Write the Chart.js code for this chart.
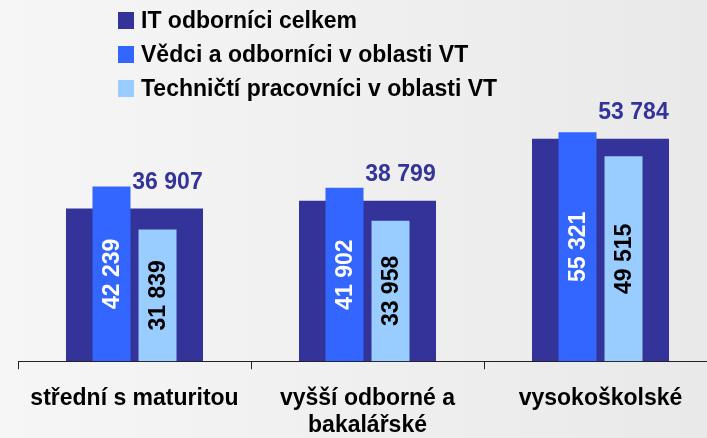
<!DOCTYPE html>
<html lang="cs">
  <head>
    <meta charset="UTF-8">
    <script src="https://cdn.jsdelivr.net/npm/chart.js"></script>
    <style>
      html, body {
      margin: 0;
      padding: 0;
      width: 707px;
      height: 438px;
      overflow: hidden;
      background: linear-gradient(to right, #f6f6f6, #e9e9e9);
      font-family: "Liberation Sans", Arial, sans-serif;
      }
      .chart-container {
      position: absolute;
      left: 0;
      top: 0;
      width: 730px;
      height: 460px;
      }
      #legend {
      position: absolute;
      left: 118px;
      top: 3px;
      z-index: 2;
      }
      #legend div {
      display: flex;
      align-items: center;
      height: 34px;
      font-weight: bold;
      font-size: 23px;
      color: #000;
      white-space: nowrap;
      }
      #legend .box {
      width: 16px;
      height: 17px;
      margin-right: 7px;
      }
    </style>
  </head>
  <body>
    <div id="legend"></div>
    <div class="chart-container">
      <canvas id="eduChart"></canvas>
    </div>
    <script>
      // kategorie vzdělání (víceřádkové popisky)
      const categories = [['střední s maturitou'], ['vyšší odborné a', 'bakalářské'], ['vysokoškolské']];
      const seriesNames = ['IT odborníci celkem', 'Vědci a odborníci v oblasti VT', 'Techničtí pracovníci v oblasti VT'];
      const itTotal = [36907, 38799, 53784];
      const scientists = [42239, 41902, 55321];
      const technicians = [31839, 33958, 49515];

      const colors = ['#333399', '#3366FF', '#99CCFF'];
      const FONT = '"Liberation Sans", Arial, sans-serif';

      // legenda jako HTML
      const legendEl = document.getElementById('legend');
      seriesNames.forEach((name, i) => {
        const row = document.createElement('div');
        const box = document.createElement('span');
        box.className = 'box';
        box.style.background = colors[i];
        row.appendChild(box);
        row.appendChild(document.createTextNode(name));
        legendEl.appendChild(row);
      });

      function fmt(v) {
        return String(v).replace(/\B(?=(\d{3})+(?!\d))/g, ' ');
      }

      // popisky hodnot
      const valueLabels = {
        id: 'valueLabels',
        afterDatasetsDraw(chart) {
          const ctx = chart.ctx;
          ctx.save();
          ctx.font = 'bold 23px ' + FONT;
          ctx.textAlign = 'center';
          ctx.textBaseline = 'middle';
          chart.data.datasets.forEach((ds, di) => {
            const meta = chart.getDatasetMeta(di);
            meta.data.forEach((bar, i) => {
              const text = fmt(ds.data[i]);
              if (di === 0) {
                ctx.fillStyle = colors[0];
                ctx.fillText(text, bar.x + 33, bar.y - 26);
              } else {
                ctx.save();
                ctx.translate(bar.x, (bar.y + bar.base) / 2);
                ctx.rotate(-Math.PI / 2);
                ctx.fillStyle = di === 1 ? '#ffffff' : '#000000';
                ctx.fillText(text, 0, 1);
                ctx.restore();
              }
            });
          });
          ctx.restore();
        }
      };

      const ctx = document.getElementById('eduChart').getContext('2d');
      const eduChart = new Chart(ctx, {
        type: 'bar',
        data: {
          labels: categories,
          datasets: [
            {
              label: seriesNames[0],
              data: itTotal,
              backgroundColor: colors[0],
              grouped: false, // široký sloupec za ostatními
              order: 1, // kreslí se vzadu
              categoryPercentage: 1,
              barPercentage: 0.588,
              borderWidth: 0
            },
            {
              label: seriesNames[1],
              data: scientists,
              backgroundColor: colors[1],
              categoryPercentage: 0.395,
              barPercentage: 0.826,
              borderWidth: 0
            },
            {
              label: seriesNames[2],
              data: technicians,
              backgroundColor: colors[2],
              categoryPercentage: 0.395,
              barPercentage: 0.826,
              borderWidth: 0
            }
          ]
        },
        options: {
          responsive: true,
          maintainAspectRatio: false,
          animation: false,
          layout: {
            padding: { left: 18, right: 13, top: 113, bottom: 5 }
          },
          plugins: {
            legend: { display: false },
            tooltip: { enabled: false }
          },
          scales: {
            x: {
              offset: true,
              grid: {
                offset: true,
                drawOnChartArea: false,
                tickLength: 8,
                color: '#222'
              },
              border: { display: true, color: '#222', width: 1 },
              ticks: {
                color: '#000',
                padding: 16,
                maxRotation: 0,
                autoSkip: false,
                font: { family: FONT, size: 23, weight: 'bold', lineHeight: 1.17 }
              }
            },
            y: {
              display: false,
              min: 0,
              max: 60000
            }
          }
        },
        plugins: [valueLabels]
      });
    </script>
  </body>
</html>
